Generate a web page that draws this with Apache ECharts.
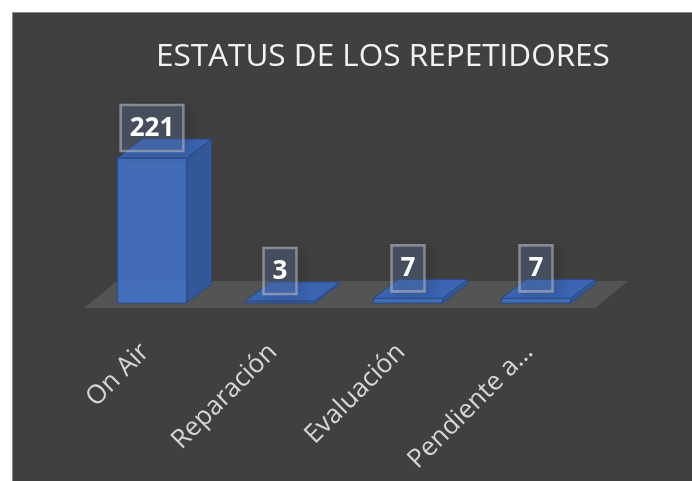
<!DOCTYPE html>
<html>
<head>
<meta charset="utf-8">
<script src="https://cdn.jsdelivr.net/npm/echarts@6/dist/echarts.min.js"></script>
<style>
html,body{margin:0;padding:0;background:#ffffff;}
#chart{width:692px;height:481px;}
</style>
</head>
<body>
<div id="chart"></div>
<script>
const titleText = 'ESTATUS DE LOS REPETIDORES';
const categories = ['On Air', 'Reparación', 'Evaluación', 'Pendiente a…'];
const values = [221, 3, 7, 7];
const yMax = 250;

const DX = 25, DY = -19;

function renderFloor(params, api) {
  const cs = params.coordSys;
  const fy = cs.y + cs.height + 5;
  const fl = cs.x - 4, fr = cs.x + cs.width - 5;
  return {
    type: 'polygon',
    shape: { points: [[fl, fy], [fr, fy], [fr + 33, fy - 27], [fl + 33, fy - 27]] },
    style: { fill: '#545454' },
    silent: true
  };
}

function renderBar(params, api) {
  const i = api.value(0);
  const v = api.value(1);
  const top = api.coord([i, v]);
  const base = api.coord([i, 0]);
  const band = api.size([1, 0])[0];
  const w = band * 0.54;
  const x0 = top[0] - w / 2, x1 = top[0] + w / 2;
  const yT = top[1], yB = base[1];
  const edge = '#2b4a85';
  const children = [
    { type: 'polyline', shape: { points: [[x0 + DX, yT + DY], [x0 + DX, yB + DY], [x1 + DX, yB + DY]] },
      style: { stroke: '#3a62ab', lineWidth: 1, fill: null } },
    { type: 'polygon', shape: { points: [[x0, yB], [x0 + DX, yB + DY], [x1 + DX, yB + DY], [x1, yB]] },
      style: { fill: '#3760a8', opacity: 0.6 } },
    { type: 'polygon', shape: { points: [[x1, yT], [x1 + DX, yT + DY], [x1 + DX, yB + DY], [x1, yB]] },
      style: { fill: '#34579a', stroke: edge, lineWidth: 1, lineJoin: 'round' } },
    { type: 'rect', shape: { x: x0, y: yT, width: w, height: yB - yT },
      style: { fill: '#4470c0', opacity: 0.93, stroke: edge, lineWidth: 1.2 } },
    { type: 'polygon', shape: { points: [[x0, yT], [x0 + DX, yT + DY], [x1 + DX, yT + DY], [x1, yT]] },
      style: { fill: '#3b65b2', stroke: edge, lineWidth: 1, lineJoin: 'round' } },
    { type: 'text', x: top[0], y: yT - 7, z2: 10,
      style: {
        text: String(v), align: 'center', verticalAlign: 'bottom',
        fill: '#ffffff', font: 'bold 26px "Open Sans", sans-serif',
        lineHeight: 31, padding: [8, 9, 7, 9],
        backgroundColor: 'rgba(105,130,185,0.28)',
        borderColor: 'rgba(200,200,200,0.6)', borderWidth: 1.3,
        shadowColor: 'rgba(0,0,0,0.35)', shadowBlur: 12, shadowOffsetX: 5, shadowOffsetY: 2
      } }
  ];
  return { type: 'group', children: children };
}

const chart = echarts.init(document.getElementById('chart'), null, { renderer: 'canvas' });
chart.setOption({
  backgroundColor: '#ffffff',
  animation: false,
  graphic: [{
    type: 'rect', z: -100, silent: true,
    shape: { x: 12.5, y: 12.5, width: 690, height: 480 },
    style: { fill: '#404040', stroke: '#8a8a8a', lineWidth: 1 }
  }],
  title: {
    text: titleText, left: 151, top: 36,
    textStyle: { color: '#f2f2f2', fontSize: 31.5, fontWeight: 'normal', fontFamily: 'Open Sans' }
  },
  grid: { left: 88, right: 92, top: 139, bottom: 178 },
  xAxis: {
    type: 'category', data: categories,
    axisLine: { show: false }, axisTick: { show: false }, splitLine: { show: false },
    axisLabel: { rotate: 45, color: '#d6d6d6', fontSize: 26, fontFamily: 'Open Sans', margin: 38, interval: 0, padding: [0, 10, 0, 0] }
  },
  yAxis: {
    type: 'value', min: 0, max: yMax, show: false
  },
  series: [
    { type: 'custom', renderItem: renderFloor, data: [[0, 0]], silent: true, z: 1 },
    { type: 'custom', renderItem: renderBar, data: values.map((v, i) => [i, v]), z: 2 }
  ]
});
</script>
</body>
</html>
